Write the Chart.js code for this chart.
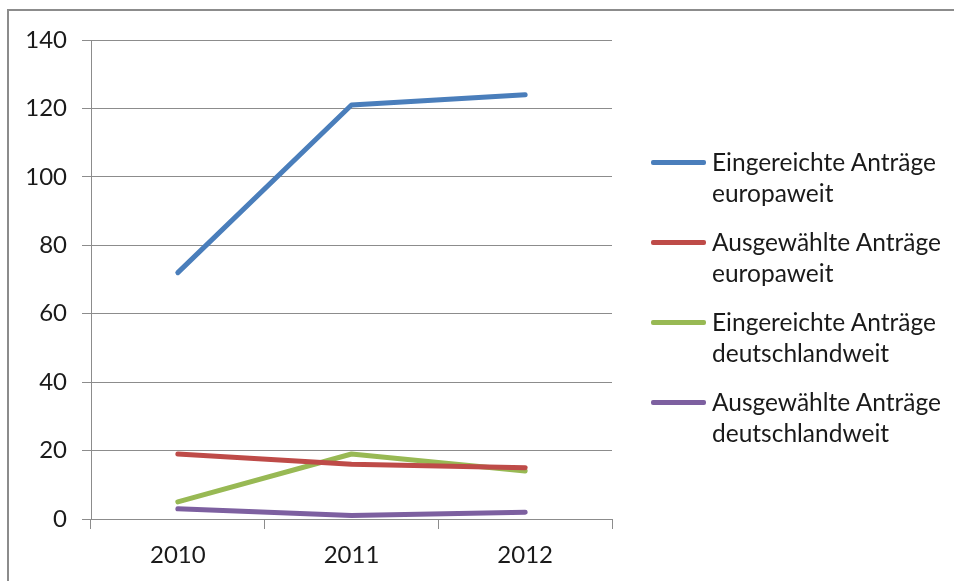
<!DOCTYPE html>
<html>
<head>
<meta charset="utf-8">
<script src="https://cdn.jsdelivr.net/npm/chart.js@4"></script>
<style>
  html, body { margin: 0; padding: 0; background: white; }
  #wrap { position: relative; width: 954px; height: 581px; overflow: hidden; }
  #frame { position: absolute; left: 7px; top: 9px; right: -10px; bottom: -10px;
           border-left: 2px solid #8c8c8c; border-top: 2px solid #8c8c8c; }
  #chart { position: absolute; left: 0; top: 0; }
  #legend { position: absolute; left: 651px; top: 0; font-family: Lato, sans-serif;
            font-size: 24.5px; color: #1a1a1a; }
  .item { position: absolute; left: 0; width: 300px; }
  .swatch { position: absolute; left: 0; width: 55px; height: 4.5px; border-radius: 2px; }
  .label { position: absolute; left: 61px; line-height: 31px; white-space: nowrap; }
</style>
</head>
<body>
<div id="wrap">
  <div id="frame"></div>
  <canvas id="chart" width="954" height="581"></canvas>
  <div id="legend"></div>
</div>
<script>
// Categories and series
var years = ['2010', '2011', '2012'];
var seriesNames = [
  ['Eingereichte Anträge', 'europaweit'],
  ['Ausgewählte Anträge', 'europaweit'],
  ['Eingereichte Anträge', 'deutschlandweit'],
  ['Ausgewählte Anträge', 'deutschlandweit']
];
var eingereichtEuropa = [72, 121, 124];
var ausgewaehltEuropa = [19, 16, 15];
var eingereichtDeutschland = [5, 19, 14];
var ausgewaehltDeutschland = [3, 1, 2];
var yTicks = [0, 20, 40, 60, 80, 100, 120, 140];

var seriesValues = [eingereichtEuropa, ausgewaehltEuropa, eingereichtDeutschland, ausgewaehltDeutschland];
var colors = ['#4A7EBB', '#BE4B48', '#98B954', '#7D60A0'];

var datasets = seriesValues.map(function (vals, i) {
  return {
    label: seriesNames[i].join(' '),
    data: vals,
    borderColor: colors[i],
    backgroundColor: colors[i],
    borderWidth: 5,
    borderCapStyle: 'round',
    borderJoinStyle: 'round',
    pointRadius: 0,
    tension: 0
  };
});

var ctx = document.getElementById('chart').getContext('2d');
var chart = new Chart(ctx, {
  type: 'line',
  data: { labels: years, datasets: datasets },
  options: {
    responsive: false,
    animation: false,
    layout: { padding: { left: 0, top: 40, right: 342, bottom: 0 } },
    plugins: { legend: { display: false }, tooltip: { enabled: false } },
    scales: {
      x: {
        offset: true,
        grid: { offset: true, drawOnChartArea: false, drawTicks: true, tickLength: 10, color: '#8c8c8c' },
        border: { color: '#8c8c8c', width: 1 },
        ticks: { color: '#1a1a1a', font: { family: 'Lato', size: 24 }, padding: 12 },
        afterFit: function (scale) { scale.height = 62; }
      },
      y: {
        min: 0,
        max: 140,
        afterBuildTicks: function (scale) {
          scale.ticks = yTicks.map(function (v) { return { value: v }; });
        },
        grid: { color: '#8c8c8c', tickLength: 9 },
        border: { color: '#8c8c8c', width: 1 },
        ticks: { color: '#1a1a1a', font: { family: 'Lato', size: 24 }, padding: 15 },
        afterFit: function (scale) { scale.width = 91; }
      }
    }
  }
});

// HTML legend with two-line labels, like the original
var legend = document.getElementById('legend');
var itemTops = [162, 242, 322, 402];
seriesNames.forEach(function (lines, i) {
  var item = document.createElement('div');
  item.className = 'item';
  item.style.top = itemTops[i] + 'px';
  var sw = document.createElement('div');
  sw.className = 'swatch';
  sw.style.top = '-2px';
  sw.style.background = colors[i];
  var lab = document.createElement('div');
  lab.className = 'label';
  lab.style.top = '-16px';
  lab.innerHTML = lines.join('<br>');
  item.appendChild(sw);
  item.appendChild(lab);
  legend.appendChild(item);
});
</script>
</body>
</html>
